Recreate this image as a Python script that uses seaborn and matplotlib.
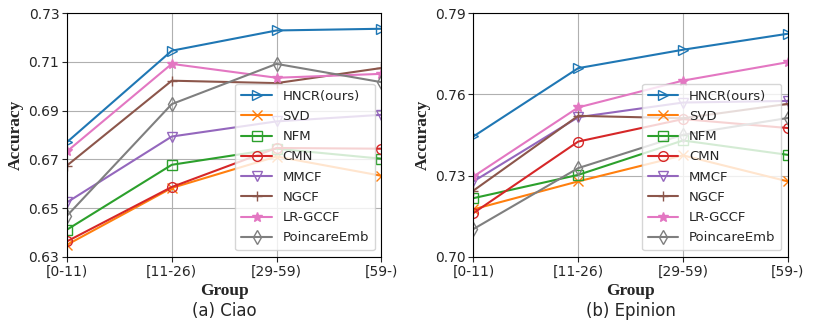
import numpy as np
import pandas as pd
import matplotlib
matplotlib.use("Agg")
import matplotlib.pyplot as plt
import seaborn as sns

groups = ["[0-11)", "[11-26)", "[29-59)", "[59-)"]
methods = ["HNCR(ours)", "SVD", "NFM", "CMN", "MMCF", "NGCF", "LR-GCCF", "PoincareEmb"]
markers = [">", "x", "s", "o", "v", "+", "*", "d"]
hollow = [True, False, True, True, True, False, False, True]

ciao = {
    "HNCR(ours)": [0.6771, 0.7146, 0.7229, 0.7236],
    "SVD": [0.6350, 0.6583, 0.6712, 0.6633],
    "NFM": [0.6412, 0.6678, 0.6744, 0.6703],
    "CMN": [0.6364, 0.6587, 0.6747, 0.6744],
    "MMCF": [0.6524, 0.6794, 0.6856, 0.6883],
    "NGCF": [0.6675, 0.7023, 0.7013, 0.7075],
    "LR-GCCF": [0.6733, 0.7092, 0.7035, 0.7051],
    "PoincareEmb": [0.6469, 0.6927, 0.7092, 0.7017],
}
epinion = {
    "HNCR(ours)": [0.7445, 0.7697, 0.7765, 0.7824],
    "SVD": [0.7176, 0.7279, 0.7375, 0.7279],
    "NFM": [0.7217, 0.7303, 0.7430, 0.7377],
    "CMN": [0.7162, 0.7426, 0.7509, 0.7476],
    "MMCF": [0.7279, 0.7516, 0.7570, 0.7576],
    "NGCF": [0.7245, 0.7521, 0.7512, 0.7565],
    "LR-GCCF": [0.7297, 0.7552, 0.7651, 0.7719],
    "PoincareEmb": [0.7103, 0.7328, 0.7451, 0.7513],
}
ciao_ticks = [0.63, 0.65, 0.67, 0.69, 0.71, 0.73]
epinion_ticks = [0.70, 0.73, 0.76, 0.79]

sns.set_style("ticks")
plt.rcParams["font.family"] = ["DejaVu Sans"]
colors = sns.color_palette("tab10", len(methods))

fig, axes = plt.subplots(1, 2, figsize=(8.13, 3.29), dpi=100)
fig.subplots_adjust(left=0.0824, right=0.969, top=0.960, bottom=0.219, wspace=0.293)

panels = [(axes[0], ciao, ciao_ticks, "(a) Ciao"), (axes[1], epinion, epinion_ticks, "(b) Epinion")]
for ax, data, ticks, title in panels:
    pos = np.arange(len(groups))
    for i, m in enumerate(methods):
        df = pd.DataFrame({"x": pos, "acc": data[m]})
        sns.lineplot(data=df, x="x", y="acc", ax=ax, color=colors[i], marker=markers[i],
                     markersize=7, linewidth=1.5, label=m,
                     markerfacecolor="none" if hollow[i] else colors[i],
                     markeredgecolor=colors[i], markeredgewidth=1.0)
    ax.set_xlim(0, len(groups) - 1)
    ax.set_ylim(ticks[0], ticks[-1])
    ax.set_xticks(pos)
    ax.set_xticklabels(groups, fontsize=10)
    ax.set_yticks(ticks)
    ax.set_yticklabels([f"{t:.2f}" for t in ticks], fontsize=10)
    ax.tick_params(length=3.5, pad=2)
    ax.grid(True, color="#b0b0b0", linewidth=0.8)
    ax.set_axisbelow(True)
    for s in ax.spines.values():
        s.set_visible(True)
        s.set_color("black")
    ax.set_xlabel("Group", fontsize=12.5, fontweight="bold", family="Liberation Serif", labelpad=3)
    ax.set_ylabel("Accuracy", fontsize=12.5, fontweight="bold", family="Liberation Serif", labelpad=3)
    ax.text(0.5, -0.221, title, transform=ax.transAxes, ha="center", va="center", fontsize=12)
    ax.legend(loc="lower right", fontsize=9.5, handlelength=2.3, borderpad=0.45,
              labelspacing=0.55, framealpha=0.8)

fig.savefig("out.png", dpi=100)
